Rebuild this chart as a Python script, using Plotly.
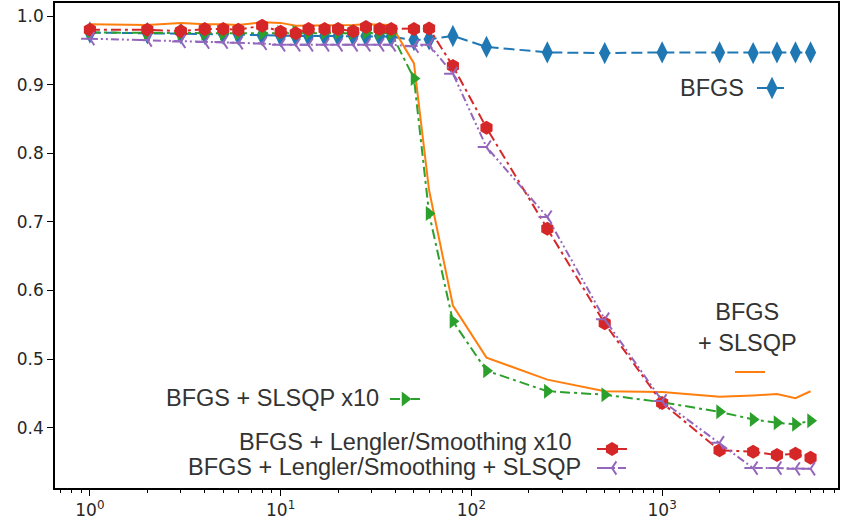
import plotly.graph_objects as go

# ---- data ----
x_vals = [1, 2, 3, 4, 5, 6, 8, 10, 12, 14, 17, 20, 24, 28, 33, 38, 50, 60,
          80, 120, 250, 500, 1000, 2000, 3000, 4000, 5000, 6000]

bfgs = [0.976, 0.975, 0.975, 0.974, 0.974, 0.973, 0.972, 0.971, 0.971, 0.971,
        0.971, 0.971, 0.971, 0.971, 0.971, 0.970, 0.965, 0.966, 0.971, 0.955,
        0.947, 0.946, 0.947, 0.947, 0.946, 0.947, 0.947, 0.947]

bfgs_slsqp = [0.988, 0.987, 0.990, 0.988, 0.988, 0.987, 0.991, 0.990, 0.986, 0.986,
              0.986, 0.986, 0.987, 0.988, 0.987, 0.987, 0.931, 0.746, 0.578, 0.502,
              0.470, 0.453, 0.452, 0.445, 0.447, 0.449, 0.443, 0.453]

bfgs_slsqp_x10 = [0.976, 0.975, 0.975, 0.975, 0.975, 0.975, 0.975, 0.976, 0.976, 0.976,
                  0.976, 0.976, 0.976, 0.976, 0.976, 0.975, 0.909, 0.712, 0.555, 0.483,
                  0.453, 0.448, 0.437, 0.423, 0.412, 0.407, 0.405, 0.410]

lengler_x10 = [0.980, 0.980, 0.978, 0.981, 0.981, 0.980, 0.986, 0.977, 0.975, 0.981,
               0.981, 0.981, 0.978, 0.984, 0.981, 0.981, 0.981, 0.982, 0.927, 0.837,
               0.690, 0.552, 0.436, 0.367, 0.365, 0.360, 0.362, 0.356]

lengler_slsqp = [0.967, 0.965, 0.963, 0.962, 0.962, 0.961, 0.960, 0.958, 0.958, 0.958,
                 0.958, 0.958, 0.958, 0.958, 0.958, 0.958, 0.956, 0.958, 0.916, 0.809,
                 0.707, 0.558, 0.439, 0.378, 0.341, 0.341, 0.340, 0.340]

labels = ["BFGS", "BFGS<br>+ SLSQP", "BFGS + SLSQP x10",
          "BFGS + Lengler/Smoothing x10", "BFGS + Lengler/Smoothing + SLSQP"]

x_tickvals = [1, 10, 100, 1000]
x_ticktext = ["10<sup>0</sup>", "10<sup>1</sup>", "10<sup>2</sup>", "10<sup>3</sup>"]
x_minor = [m * 10 ** k for k in range(-1, 4) for m in range(2, 10)]
y_tickvals = [0.4, 0.5, 0.6, 0.7, 0.8, 0.9, 1.0]

# ---- layout geometry (pixels) ----
W, H = 842, 531
L, R, T, B = 55, 838, 3, 488


def px(xp):
    return (xp - L) / (R - L)


def py(yp):
    return (B - yp) / (B - T)


series = [
    dict(y=bfgs, color="#1f77b4", dash="11px,5px", symbol="diamond-tall", size=16,
         mode="lines+markers", leg="legend"),
    dict(y=bfgs_slsqp, color="#ff7f0e", dash="solid", symbol=None, size=0,
         mode="lines", leg="legend2"),
    dict(y=bfgs_slsqp_x10, color="#2ca02c", dash="10px,4px,3px,4px", symbol="triangle-right",
         size=13, mode="lines+markers", leg="legend3"),
    dict(y=lengler_x10, color="#d62728", dash="10px,4px,3px,4px", symbol="hexagon", size=14,
         mode="lines+markers", leg="legend4"),
    dict(y=lengler_slsqp, color="#9467bd", dash="8px,3px,2px,3px,2px,3px", symbol="y-left",
         size=11, mode="lines+markers", leg="legend5"),
]

fig = go.Figure()
for s, lab in zip(series, labels):
    marker = None
    if s["symbol"]:
        if s["symbol"] == "y-left":
            marker = dict(symbol=s["symbol"], size=s["size"],
                          line=dict(color=s["color"], width=2))
        else:
            marker = dict(symbol=s["symbol"], size=s["size"], color=s["color"])
    fig.add_trace(go.Scatter(
        x=x_vals, y=s["y"], mode=s["mode"], name="",
        line=dict(color=s["color"], width=2, dash=s["dash"]),
        marker=marker, legend=s["leg"],
        hovertemplate=lab.replace("<br>", " ") + ": %{y}<extra></extra>",
    ))

# legend sample positions (left edge of symbol box, center y), in pixels
leg_pos = {
    "legend": (752, 88),
    "legend2": (730, 372),
    "legend3": (385, 399),
    "legend4": (592, 449),
    "legend5": (592, 468),
}
legend_layouts = {}
for k, (lx, ly) in leg_pos.items():
    legend_layouts[k] = dict(x=px(lx), y=py(ly), xref="paper", yref="paper",
                             xanchor="left", yanchor="middle",
                             bgcolor="rgba(0,0,0,0)", borderwidth=0,
                             font=dict(size=8), itemwidth=30)

# label annotations
text_font = dict(family="Liberation Sans, Arial, sans-serif", size=23.5, color="#333333")
ann_specs = [
    (labels[0], 746, 88, "right"),
    (labels[1], 747, 327, "center"),
    (labels[2], 381, 398, "right"),
    (labels[3], 573, 442, "right"),
    (labels[4], 583, 467, "right"),
]
annotations = []
for txt, ax_, ay_, al in ann_specs:
    annotations.append(dict(
        text=txt, x=px(ax_), y=py(ay_), xref="paper", yref="paper",
        xanchor=al, yanchor="middle", align="center", showarrow=False,
        font=text_font))

fig.update_layout(
    width=W, height=H,
    margin=dict(l=L, r=W - R, t=T, b=H - B, autoexpand=False),
    plot_bgcolor="white", paper_bgcolor="white",
    showlegend=True,
    annotations=annotations,
    **legend_layouts,
)

axis_font = dict(family="DejaVu Sans, sans-serif", size=17, color="#262626")
fig.update_xaxes(
    type="log", range=[-0.183, 3.922], automargin=False,
    tickmode="array", tickvals=x_tickvals, ticktext=x_ticktext,
    ticks="outside", ticklen=6, tickwidth=1.2, tickcolor="black",
    minor=dict(tickmode="array", tickvals=x_minor, ticks="outside", ticklen=3,
               tickwidth=1, tickcolor="black", showgrid=False),
    showline=True, linecolor="black", linewidth=1.5, mirror=True,
    showgrid=False, zeroline=False, tickfont=axis_font,
)
fig.update_yaxes(
    range=[0.312, 1.019], automargin=False,
    tickmode="array", tickvals=y_tickvals, tickformat=".1f",
    ticks="outside", ticklen=6, tickwidth=1.2, tickcolor="black",
    showline=True, linecolor="black", linewidth=1.5, mirror=True,
    showgrid=False, zeroline=False, tickfont=axis_font,
)

fig.write_html("out.html",
               config={"displayModeBar": False},
               post_script="document.body.style.margin='0px';"
                           "document.body.style.overflow='hidden';")
